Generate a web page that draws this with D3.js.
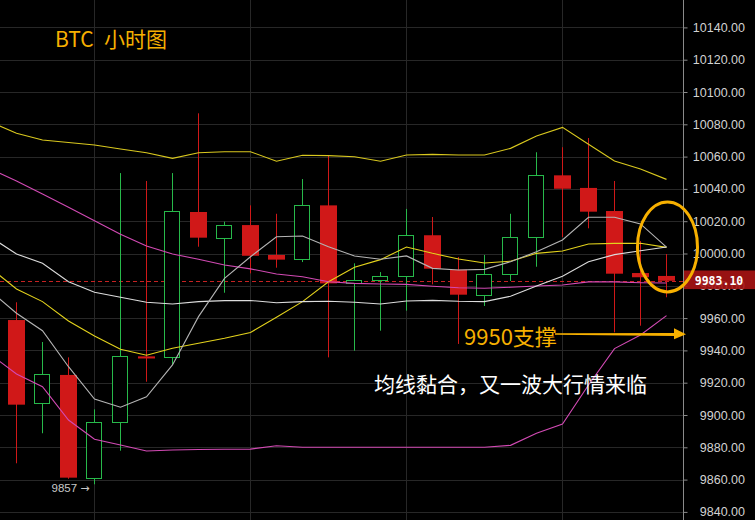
<!DOCTYPE html>
<html><head><meta charset="utf-8">
<script src="https://cdn.jsdelivr.net/npm/d3@7"></script>
<style>html,body{margin:0;padding:0;background:#000;overflow:hidden}</style>
</head><body><svg id="chart" width="755" height="520"></svg>
<script>
// ---- data (hourly BTC candles) ----
const hours = d3.range(26);
const open  = [9958.8, 9907.2, 9924.8, 9861.2, 9895.5, 9936.3, 9935.7, 10025.7, 10009.4, 10017.6, 9999.1, 9996.4, 10029.8, 9981.5, 9983.4, 9985.9, 10011.3, 9990.0, 9974.5, 9987.1, 10010.2, 10048.4, 10040.6, 10026.3, 9987.9, 9986.1];
const high  = [9969.8, 9945.2, 9935.7, 9903.5, 10049.8, 10044.9, 10049.8, 10086.8, 10019.7, 10029.8, 10024.6, 10046.1, 10060.4, 9993.9, 9988.5, 10027.6, 10022.6, 9997.8, 9999.1, 10024.6, 10062.7, 10065.8, 10071.5, 10044.9, 10007.7, 9999.7];
const low   = [9870.1, 9888.7, 9860.5, 9857.1, 9877.9, 9920.6, 9931.0, 10004.2, 9975.7, 9987.7, 9991.2, 9994.7, 9935.7, 9939.8, 9952.2, 9964.6, 9980.9, 9944.0, 9967.5, 9983.0, 9991.8, 10010.2, 10015.6, 9951.2, 9955.3, 9972.9];
const close = [9906.4, 9925.2, 9861.2, 9895.5, 9936.3, 9935.0, 10026.1, 10009.8, 10017.5, 9998.6, 9996.2, 10029.8, 9981.5, 9983.4, 9985.9, 10011.3, 9990.6, 9974.5, 9987.1, 10010.2, 10048.4, 10040.1, 10025.9, 9987.5, 9985.3, 9983.1];

// indicator lines: first value belongs to the hour before the first visible candle
const yellowUpper = [10081.5, 10074.4, 10070.3, 10068.7, 10067.2, 10064.7, 10062.4, 10058.9, 10062.4, 10063.0, 10063.0, 10057.1, 10060.8, 10060.6, 10059.9, 10057.1, 10061.0, 10061.4, 10061.0, 10061.0, 10065.1, 10072.8, 10078.1, 10067.6, 10057.3, 10052.3, 10045.9];
const yellowLower = [9991.0, 9978.0, 9970.2, 9958.2, 9948.9, 9940.7, 9937.0, 9941.3, 9944.4, 9947.5, 9951.1, 9960.5, 9970.2, 9982.5, 9991.5, 9996.2, 10004.0, 10000.1, 9996.6, 9994.1, 9995.2, 10000.1, 10001.5, 10005.9, 10006.3, 10006.3, 10003.8];
const pinkUpper   = [10052.4, 10044.9, 10036.8, 10028.6, 10020.3, 10011.9, 10004.6, 9999.7, 9996.4, 9992.9, 9990.5, 9987.3, 9985.6, 9982.5, 9981.5, 9981.1, 9980.9, 9979.7, 9978.8, 9978.5, 9979.1, 9979.9, 9980.5, 9982.4, 9982.4, 9981.9, 9981.7];
const pinkLower   = [9937.4, 9925.4, 9917.5, 9896.9, 9885.0, 9881.4, 9877.7, 9878.3, 9878.6, 9878.8, 9878.9, 9881.0, 9880.0, 9880.0, 9880.0, 9880.0, 9880.0, 9880.0, 9880.0, 9880.0, 9881.2, 9888.7, 9894.4, 9918.6, 9941.1, 9949.5, 9961.5];
const whiteSlow   = [10010.2, 9999.7, 9993.9, 9982.5, 9976.0, 9972.9, 9969.8, 9968.7, 9970.2, 9970.8, 9970.9, 9969.5, 9970.2, 9970.4, 9969.8, 9968.7, 9970.6, 9971.0, 9970.4, 9970.2, 9973.5, 9979.9, 9985.9, 9994.9, 9999.3, 10001.7, 10004.0];
const grayFast    = [9976.7, 9963.0, 9952.2, 9929.9, 9909.9, 9904.8, 9911.3, 9931.0, 9960.9, 9984.6, 9998.0, 10010.4, 10010.8, 10004.2, 9998.5, 9996.4, 9998.5, 9990.8, 9989.8, 9990.2, 9994.9, 10001.1, 10008.4, 10022.4, 10022.4, 10018.3, 10004.0];

const tickValues = d3.range(9840, 10141, 20);
const gridHours = [3, 9, 15, 21];
const lastPrice = 9983.1;
const supportPrice = 9950;
const lowMark = {hour: 3, label: "9857", arrow: "\u2192"};
const titleText = ["BTC", "小时图"];
const supportText = "9950支撑";
const noteText = "均线黏合，又一波大行情来临";

// ---- drawing ----
const W = 755, H = 520, plotRight = 683;
const RED = "#d01818", GREEN = "#27b94a", ORANGE = "#f7b000";
const x = d3.scaleLinear().domain([0, 25]).range([16.5, 666.5]);
const y = d3.scaleLinear().domain([9840, 10140]).range([511.9, 27.4]);
const svg = d3.select("#chart");
svg.append("rect").attr("width", W).attr("height", H).attr("fill", "#000");

svg.append("defs").append("clipPath").attr("id", "plot")
  .append("rect").attr("x", 0).attr("y", 0).attr("width", plotRight).attr("height", H);

// grid
const grid = svg.append("g").attr("stroke", "#272727").attr("stroke-width", 1);
grid.selectAll("line.h").data(tickValues).join("line").attr("class", "h")
  .attr("x1", 0).attr("x2", plotRight)
  .attr("y1", d => Math.round(y(d)) + 0.5).attr("y2", d => Math.round(y(d)) + 0.5);
grid.selectAll("line.v").data(gridHours).join("line").attr("class", "v")
  .attr("x1", d => x(d)).attr("x2", d => x(d)).attr("y1", 0).attr("y2", H);

// last price dashed line
svg.append("line").attr("x1", 0).attr("x2", plotRight)
  .attr("y1", Math.round(y(lastPrice)) + 0.5).attr("y2", Math.round(y(lastPrice)) + 0.5)
  .attr("stroke", "#c62222").attr("stroke-dasharray", "4,3");

// candles
const candles = hours.map(i => ({i, o: open[i], h: high[i], l: low[i], c: close[i]}));
const cg = svg.append("g");
cg.selectAll("line").data(candles).join("line")
  .attr("x1", d => x(d.i)).attr("x2", d => x(d.i))
  .attr("y1", d => y(d.h)).attr("y2", d => y(d.l))
  .attr("stroke", d => d.c >= d.o ? GREEN : RED).attr("stroke-width", 1);
cg.selectAll("rect.red").data(candles.filter(d => d.c < d.o)).join("rect").attr("class", "red")
  .attr("x", d => x(d.i) - 8.5).attr("width", 17)
  .attr("y", d => y(d.o))
  .attr("height", d => Math.max(2, y(d.c) - y(d.o)))
  .attr("fill", RED);
cg.selectAll("rect.green").data(candles.filter(d => d.c >= d.o)).join("rect").attr("class", "green")
  .attr("x", d => x(d.i) - 8).attr("width", 15)
  .attr("y", d => Math.round(y(d.c)) + 0.5)
  .attr("height", d => Math.max(2, Math.round(y(d.o)) - Math.round(y(d.c))))
  .attr("fill", "#000").attr("stroke", GREEN).attr("stroke-width", 1);

// indicator lines
const lineGen = d3.line().x((d, k) => x(k - 1)).y(d => y(d));
const lg = svg.append("g").attr("clip-path", "url(#plot)").attr("fill", "none").attr("stroke-width", 1.1);
[[yellowUpper, "#d9c81e"], [yellowLower, "#e3d21c"], [pinkUpper, "#d24ab4"], [pinkLower, "#d24ab4"],
 [whiteSlow, "#dcdcdc"], [grayFast, "#b4b4b4"]].forEach(([data, col]) => {
  lg.append("path").datum(data).attr("d", lineGen).attr("stroke", col);
});

// right axis
const axis = d3.axisRight(y).tickValues(tickValues).tickSize(4).tickFormat(d3.format(".2f"));
const ag = svg.append("g").attr("transform", `translate(${plotRight + 0.5},0)`).call(axis);
ag.select(".domain").remove();
ag.selectAll(".tick line").attr("stroke", "#8a8a8a");
ag.selectAll(".tick text").attr("x", 745 - plotRight - 0.5).attr("text-anchor", "end")
  .attr("fill", "#d2d2d2").style("font-family", "'Liberation Sans', Arial, sans-serif").style("font-size", "12.5px");
svg.append("line").attr("x1", plotRight + 0.5).attr("x2", plotRight + 0.5).attr("y1", 0).attr("y2", H)
  .attr("stroke", "#8a8a8a");

// last price tag
const py = y(lastPrice);
svg.append("rect").attr("x", plotRight + 1).attr("y", py - 10.3).attr("width", W - plotRight).attr("height", 18.6)
  .attr("fill", "#a81414").attr("opacity", 0.9);
svg.append("text").attr("x", 719).attr("y", py).attr("dy", "0.36em").attr("text-anchor", "middle")
  .attr("fill", "#fff").style("font-family", "'DejaVu Sans Mono', monospace").style("font-weight", "bold")
  .style("font-size", "11.5px").text(d3.format(".2f")(lastPrice));

// low mark
const lm = svg.append("text").attr("x", x(lowMark.hour) - 43).attr("y", y(low[lowMark.hour]) + 4)
  .attr("dy", "0.35em").attr("fill", "#c8c8c8")
  .style("font-family", "'Liberation Sans', Arial, sans-serif").style("font-size", "11.5px");
lm.append("tspan").text(lowMark.label + " ");
lm.append("tspan").style("font-family", "'DejaVu Sans', sans-serif").style("font-size", "11px").text(lowMark.arrow);

// annotations
const cjk = "'Noto Sans CJK SC', 'Noto Sans', sans-serif";
svg.append("text").attr("x", 55).attr("y", 46.5).attr("fill", ORANGE)
  .style("font-family", cjk).style("font-size", "21px").text(titleText[0]);
svg.append("text").attr("x", 104).attr("y", 46.5).attr("fill", ORANGE)
  .style("font-family", cjk).style("font-size", "21px").text(titleText[1]);

svg.append("text").attr("x", 464).attr("y", y(supportPrice) + 11).attr("fill", ORANGE)
  .style("font-family", cjk).style("font-size", "22px").text(supportText);
// arrow
const ay = y(supportPrice);
svg.append("path").attr("d", `M555,${ay - 1} L675,${ay - 1.2} L675,${ay + 1.8} L555,${ay + 0.6} Z`).attr("fill", ORANGE);
svg.append("path").attr("d", `M674,${ay - 6} L686,${ay} L674,${ay + 5} Z`).attr("fill", ORANGE);

svg.append("text").attr("x", 374).attr("y", 392).attr("fill", "#fff")
  .style("font-family", cjk).style("font-size", "21px").text(noteText);

// ellipse highlight
svg.append("ellipse").attr("cx", x(25) + 1).attr("cy", y(10004.1)).attr("rx", 30).attr("ry", 45)
  .attr("fill", "none").attr("stroke", ORANGE).attr("stroke-width", 3);
</script></body></html>
